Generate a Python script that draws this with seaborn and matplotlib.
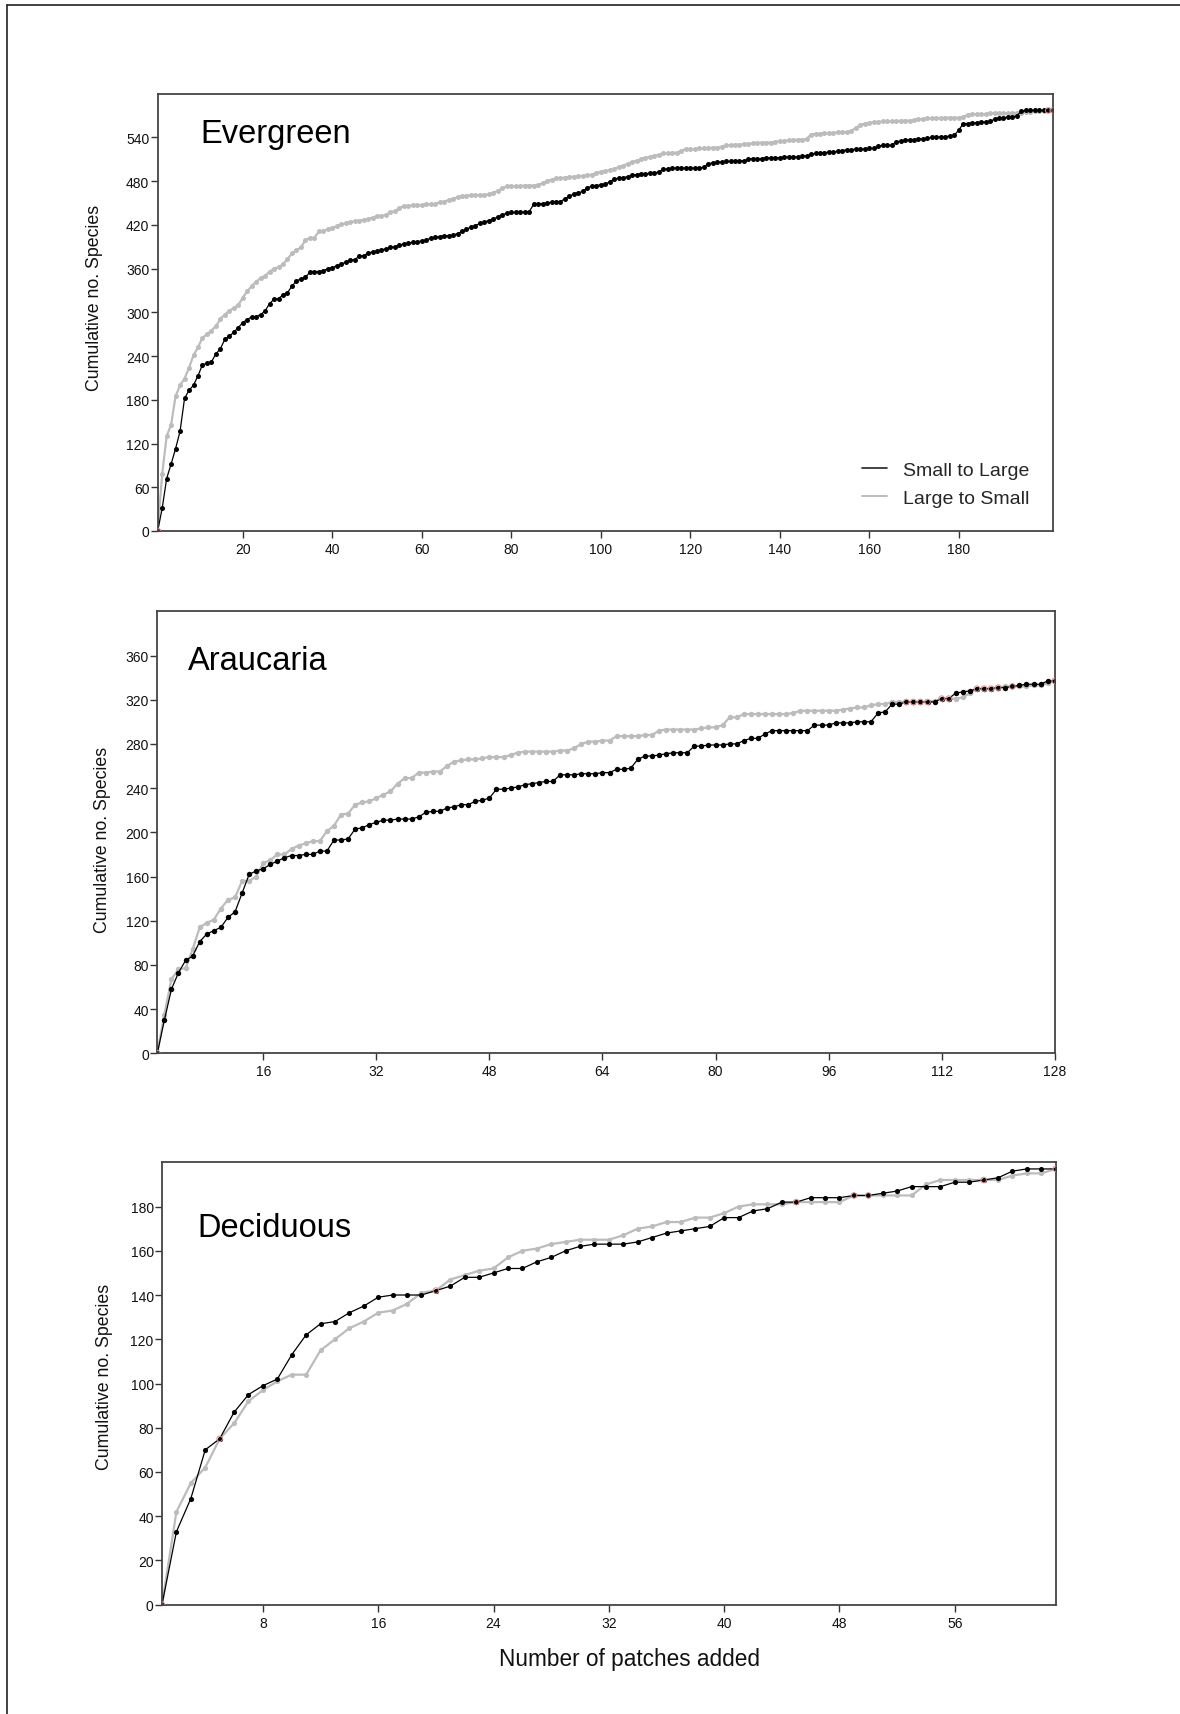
import numpy as np
import pandas as pd
import matplotlib
matplotlib.use("Agg")
import matplotlib.pyplot as plt
import seaborn as sns
from matplotlib.lines import Line2D

sns.set_theme(style="white")
plt.rcParams["font.family"] = ["Liberation Sans", "DejaVu Sans"]

# ---------------- data ----------------
series_names = ["Small to Large", "Large to Small"]
x_label = "Number of patches added"
y_label = "Cumulative no. Species"

evergreen_small_to_large = [
    0, 31, 72, 92, 113, 137, 182, 193, 200, 213,
    228, 230, 232, 243, 250, 263, 267, 273, 279, 286,
    290, 294, 294, 297, 302, 312, 318, 319, 324, 327,
    336, 343, 346, 348, 355, 356, 356, 357, 360, 361,
    364, 366, 369, 372, 372, 377, 378, 381, 383, 384,
    386, 387, 389, 390, 392, 394, 395, 396, 397, 398,
    399, 402, 403, 404, 405, 405, 406, 408, 411, 414,
    417, 419, 422, 424, 426, 428, 431, 434, 436, 437,
    437, 437, 438, 438, 448, 449, 449, 450, 451, 452,
    452, 456, 459, 463, 464, 466, 471, 473, 474, 475,
    476, 479, 483, 484, 485, 486, 488, 489, 490, 490,
    491, 491, 493, 496, 497, 498, 498, 498, 498, 498,
    498, 498, 499, 504, 505, 506, 506, 507, 507, 508,
    508, 508, 510, 511, 511, 511, 512, 512, 512, 512,
    513, 513, 513, 513, 514, 515, 517, 518, 519, 519,
    520, 520, 521, 522, 523, 523, 524, 524, 524, 525,
    525, 528, 529, 529, 529, 534, 535, 536, 537, 537,
    538, 538, 539, 540, 540, 541, 541, 542, 543, 550,
    559, 559, 560, 560, 561, 561, 562, 565, 567, 567,
    568, 568, 570, 576, 577, 577, 577, 577, 577, 577,
    577,
]
evergreen_large_to_small = [
    0, 78, 130, 146, 185, 200, 209, 224, 241, 252,
    265, 270, 275, 281, 291, 297, 302, 306, 310, 320,
    329, 336, 342, 347, 350, 356, 360, 362, 366, 373,
    381, 385, 389, 399, 402, 402, 411, 412, 414, 416,
    418, 421, 422, 424, 425, 426, 427, 428, 430, 432,
    432, 434, 437, 439, 443, 446, 446, 447, 447, 447,
    448, 448, 449, 451, 452, 454, 456, 458, 459, 460,
    461, 461, 461, 461, 462, 464, 467, 470, 473, 473,
    473, 473, 474, 474, 474, 475, 477, 480, 482, 484,
    484, 485, 486, 486, 487, 487, 488, 489, 491, 493,
    494, 495, 497, 499, 501, 504, 506, 508, 510, 512,
    513, 515, 516, 518, 518, 519, 519, 522, 524, 524,
    524, 525, 525, 525, 526, 526, 527, 529, 529, 530,
    530, 531, 531, 532, 532, 533, 533, 533, 534, 535,
    535, 536, 536, 537, 537, 538, 544, 545, 545, 546,
    546, 546, 547, 547, 547, 549, 553, 557, 559, 560,
    561, 561, 562, 562, 562, 562, 563, 563, 563, 564,
    565, 565, 566, 566, 566, 566, 567, 567, 567, 567,
    568, 571, 572, 572, 572, 572, 573, 573, 573, 573,
    573, 573, 574, 574, 575, 575, 576, 576, 576, 577,
    577,
]

araucaria_small_to_large = [
    0, 30, 58, 73, 84, 88, 101, 108, 111, 114,
    123, 128, 145, 162, 165, 167, 171, 174, 177, 179,
    179, 180, 180, 183, 183, 193, 193, 194, 203, 204,
    207, 209, 211, 211, 212, 212, 212, 214, 218, 219,
    219, 222, 223, 225, 225, 228, 229, 231, 239, 239,
    240, 241, 243, 244, 245, 246, 246, 252, 252, 252,
    253, 253, 253, 254, 254, 257, 257, 258, 266, 269,
    269, 270, 271, 272, 272, 272, 278, 278, 279, 279,
    279, 280, 280, 283, 285, 285, 289, 292, 292, 292,
    292, 292, 292, 297, 297, 297, 299, 299, 299, 300,
    300, 300, 308, 309, 316, 316, 318, 318, 318, 318,
    318, 321, 321, 326, 327, 328, 330, 330, 330, 331,
    331, 332, 333, 334, 334, 334, 337, 337,
]
araucaria_large_to_small = [
    0, 35, 67, 76, 77, 94, 114, 118, 121, 131,
    139, 141, 156, 156, 160, 172, 175, 180, 180, 185,
    188, 190, 192, 192, 201, 206, 216, 217, 225, 227,
    228, 231, 234, 237, 244, 249, 249, 254, 254, 255,
    255, 260, 264, 265, 266, 266, 267, 268, 268, 268,
    270, 272, 273, 273, 273, 273, 273, 274, 274, 276,
    280, 282, 282, 283, 283, 287, 287, 287, 287, 288,
    288, 292, 293, 293, 293, 293, 293, 294, 295, 295,
    297, 304, 304, 307, 307, 307, 307, 307, 307, 307,
    308, 310, 310, 310, 310, 310, 310, 311, 312, 313,
    313, 315, 316, 316, 318, 318, 318, 318, 318, 318,
    319, 321, 321, 321, 322, 326, 330, 330, 330, 331,
    332, 332, 332, 332, 333, 333, 335, 337,
]

deciduous_small_to_large = [
    0, 33, 48, 70, 75, 87, 95, 99, 102, 113,
    122, 127, 128, 132, 135, 139, 140, 140, 140, 142,
    144, 148, 148, 150, 152, 152, 155, 157, 160, 162,
    163, 163, 163, 164, 166, 168, 169, 170, 171, 175,
    175, 178, 179, 182, 182, 184, 184, 184, 185, 185,
    186, 187, 189, 189, 189, 191, 191, 192, 193, 196,
    197, 197, 197,
]
deciduous_large_to_small = [
    0, 42, 55, 62, 75, 82, 92, 97, 101, 104,
    104, 115, 120, 125, 128, 132, 133, 136, 141, 142,
    147, 149, 151, 152, 157, 160, 161, 163, 164, 165,
    165, 165, 167, 170, 171, 173, 173, 175, 175, 177,
    180, 181, 181, 181, 182, 182, 182, 182, 185, 185,
    185, 185, 185, 190, 192, 192, 192, 192, 192, 194,
    195, 195, 197,
]

panel_titles = ["Evergreen", "Araucaria", "Deciduous"]
x_tick_sets = [[20, 40, 60, 80, 100, 120, 140, 160, 180],
               [16, 32, 48, 64, 80, 96, 112, 128],
               [8, 16, 24, 32, 40, 48, 56]]
y_tick_sets = [list(range(0, 541, 60)), list(range(0, 361, 40)), list(range(0, 181, 20))]
y_limits = [600, 400, 200]

# ---------------- style ----------------
BLACK = "#000000"
GREY = "#bcbcbc"
RED = "#d98a8a"
W, H = 1180, 1715

fig = plt.figure(figsize=(W / 100, H / 100), dpi=100)

# pixel boxes (left, top, right, bottom)
boxes = [(157.7, 94.7, 1052.7, 532.0),
         (157.3, 612.3, 1054.7, 1054.3),
         (162.0, 1163.3, 1055.7, 1605.7)]
title_pos = [(0.048, 0.889), (0.034, 0.870), (0.040, 0.833)]
ylabel_pos = [(-0.061, 0.535), (-0.052, 0.485), (-0.055, 0.517)]
marker_sizes = [3.6, 3.9, 3.7]

data_sets = [(evergreen_small_to_large, evergreen_large_to_small),
             (araucaria_small_to_large, araucaria_large_to_small),
             (deciduous_small_to_large, deciduous_large_to_small)]

axes = []
for i, (s2l, l2s) in enumerate(data_sets):
    l, t, r, b = boxes[i]
    ax = fig.add_axes([l / W, 1 - b / H, (r - l) / W, (b - t) / H])
    axes.append(ax)
    s2l = np.asarray(s2l)
    l2s = np.asarray(l2s)
    n = len(s2l)
    patches = np.arange(1, n + 1)
    df = pd.DataFrame({"patches": patches, "s2l": s2l, "l2s": l2s})

    sns.lineplot(data=df, x="patches", y="l2s", ax=ax, color=GREY, linewidth=1.6,
                 marker="o", markersize=marker_sizes[i], markeredgewidth=0,
                 markerfacecolor=GREY, estimator=None, sort=False)
    sns.lineplot(data=df, x="patches", y="s2l", ax=ax, color=BLACK, linewidth=0.9,
                 marker="o", markersize=marker_sizes[i], markeredgewidth=0,
                 markerfacecolor=BLACK, estimator=None, sort=False)
    eq = df[df["s2l"] == df["l2s"]]
    sns.scatterplot(data=eq, x="patches", y="s2l", ax=ax, marker="o", s=16,
                    facecolor="none", edgecolor=RED, linewidth=0.7, zorder=5)

    ax.set_xlim(1, n)
    ax.set_ylim(0, y_limits[i])
    ax.set_xticks(x_tick_sets[i])
    ax.set_yticks(y_tick_sets[i])
    ax.tick_params(axis="both", which="both", direction="out", bottom=True, left=True,
                   top=False, right=False, length=5, width=1.0, color="#333333",
                   labelcolor="#111111", labelsize=10)
    ax.tick_params(axis="y", pad=1)
    ax.tick_params(axis="x", pad=3)
    for sp in ax.spines.values():
        sp.set_visible(True)
        sp.set_color("#444444")
        sp.set_linewidth(1.3)
    ax.set_xlabel("")
    ax.set_ylabel(y_label, fontsize=12.8, color="#111111")
    ax.yaxis.set_label_coords(*ylabel_pos[i])
    ax.text(title_pos[i][0], title_pos[i][1], panel_titles[i], transform=ax.transAxes,
            fontsize=23.5, color="black", ha="left", va="baseline")

# legend on the first panel
handles = [Line2D([], [], color="#222222", linewidth=1.2),
           Line2D([], [], color=GREY, linewidth=1.4)]
axes[0].legend(handles, series_names, loc="lower right",
               bbox_to_anchor=(0.974, 0.055), borderaxespad=0, borderpad=0,
               frameon=False, fontsize=14, handlelength=1.3, handletextpad=0.8,
               labelspacing=0.55)

axes[2].set_xlabel(x_label, fontsize=16.3, color="#111111")
axes[2].xaxis.set_label_coords(0.5226, -0.095)

# figure frame (left and top edges visible)
fig.add_artist(Line2D([6.5 / W, 6.5 / W], [0, 1 - 6 / H], transform=fig.transFigure,
                      color="#222222", linewidth=1.2))
fig.add_artist(Line2D([6.5 / W, 1], [1 - 6 / H, 1 - 6 / H], transform=fig.transFigure,
                      color="#222222", linewidth=1.2))

fig.savefig("out.png", dpi=100, facecolor="white")
